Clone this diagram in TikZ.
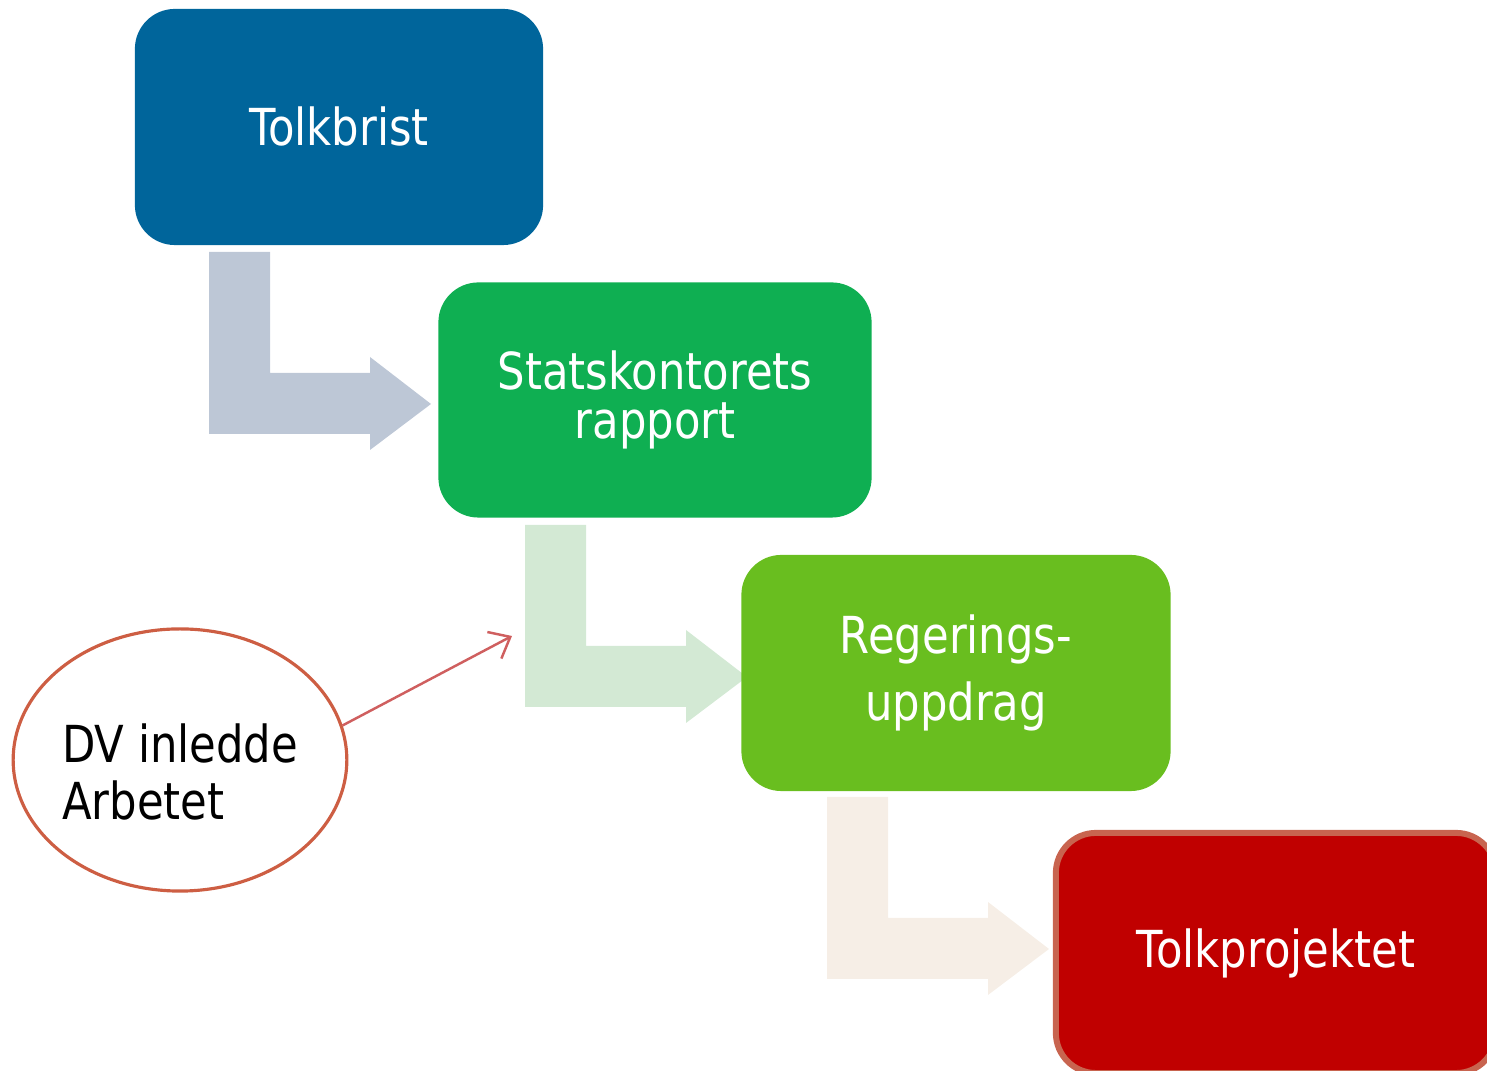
\documentclass[tikz,border=0pt]{standalone}
\usepackage{fontspec}
\setmainfont[FakeStretch=0.85]{DejaVu Sans}
\usetikzlibrary{shapes.geometric,arrows.meta}

\definecolor{tolkblue}{HTML}{00659B}
\definecolor{statsgreen}{HTML}{0FAF52}
\definecolor{reglime}{HTML}{69BE1F}
\definecolor{projred}{HTML}{C00000}
\definecolor{projrim}{HTML}{C8644F}
\definecolor{bendA}{HTML}{BDC7D6}
\definecolor{bendB}{HTML}{D3E9D4}
\definecolor{bendC}{HTML}{F6EEE6}
\definecolor{dvrim}{HTML}{CD5E43}
\definecolor{dvline}{HTML}{CF5F5F}

\begin{document}
\begin{tikzpicture}[x=0.01cm, y=-0.01cm]
	\tikzstyle{stage}  = [rectangle, rounded corners=0.4cm, minimum width=4.3cm, minimum height=2.36cm, align=center, text=white, font=\fontsize{14.5pt}{16pt}\selectfont]
	\tikzstyle{starter} = [ellipse, minimum width=3.32cm, minimum height=2.62cm, inner sep=0pt, draw=dvrim, line width=0.9pt, align=left, font=\fontsize{14.5pt}{16.2pt}\selectfont]

	\clip (0,0) rectangle (1487,1071);

	% bent arrows between the stages
	\foreach \x/\y/\col in {209/252/bendA, 525/525/bendB, 827/797/bendC}
		\fill[\col, shift={(\x,\y)}] (0,0) -- (61,0) -- (61,121) -- (161,121) -- (161,105)
			-- (222,152) -- (161,198) -- (161,182) -- (0,182) -- cycle;

	\node[stage, fill=tolkblue, minimum width=4.08cm] (brist) at (339,127) {Tolkbrist};
	\node[stage, fill=statsgreen, minimum width=4.33cm, minimum height=2.35cm] (rapport) at (655,400) {Statskontorets\\[-2.2pt]rapport};
	\node[stage, fill=reglime, minimum width=4.29cm] (uppdrag) at (956,673) {Regerings-\\[2.8pt]uppdrag};
	\node[stage, fill=projred, draw=projrim, line width=0.06cm, minimum width=4.4cm, minimum height=2.4cm] (projekt) at (1276,953) {Tolkprojektet};

	\node[starter] (dv) at (180,760) {\rule{0pt}{0.62cm}DV inledde\\Arbetet};
	\coordinate (pekare) at (512,636);
	\draw[dvline, line width=0.7pt, -{Straight Barb[length=1.8mm, width=3mm]}] (dv.12) -- (pekare);
\end{tikzpicture}
\end{document}
